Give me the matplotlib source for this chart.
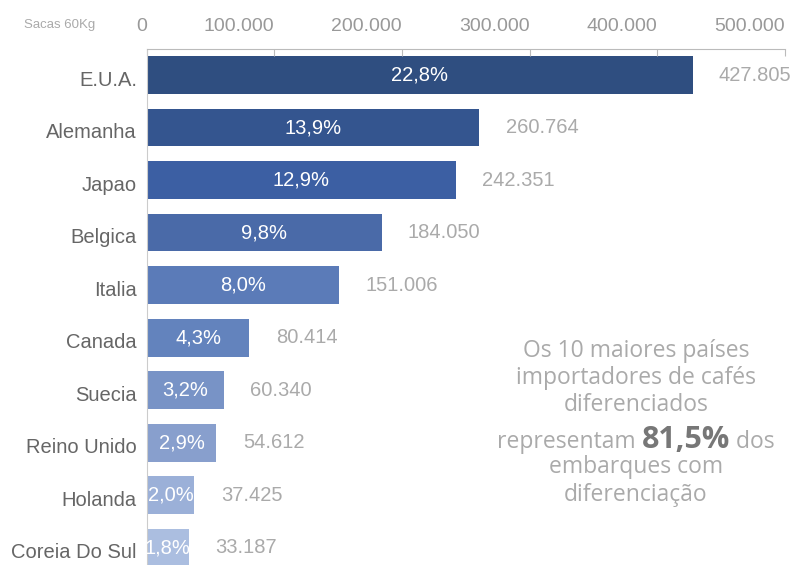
import matplotlib.pyplot as plt
from matplotlib.ticker import FuncFormatter
from matplotlib.transforms import ScaledTranslation

paises = ['E.U.A.', 'Alemanha', 'Japao', 'Belgica', 'Italia', 'Canada',
          'Suecia', 'Reino Unido', 'Holanda', 'Coreia Do Sul']
sacas = [427805, 260764, 242351, 184050, 151006, 80414, 60340, 54612, 37425, 33187]
percentual = ['22,8%', '13,9%', '12,9%', '9,8%', '8,0%', '4,3%', '3,2%', '2,9%', '2,0%', '1,8%']
cores = ['#2f4e80', '#34558f', '#3c5fa3', '#4a6aa8', '#5b7bb8', '#6383bd',
         '#7893c6', '#889fcd', '#9bb0d8', '#abbee0']
ticks = [0, 100000, 200000, 300000, 400000, 500000]

plt.rcParams['font.family'] = ['Liberation Sans', 'DejaVu Sans']

fig = plt.figure(figsize=(7.98, 5.65), dpi=100)
ax = fig.add_axes([146.7 / 798, 0, (784.7 - 146.7) / 798, 1 - 48.5 / 565])

y = list(range(len(paises)))
ax.barh(y, sacas, height=0.72, color=cores)

for i in y:
    ax.text(sacas[i] / 2, i, percentual[i], ha='center', va='center',
            color='white', fontsize=14.5)
    ax.annotate(f'{sacas[i]:,}'.replace(',', '.'), (sacas[i], i),
                xytext=(19, 0), textcoords='offset points',
                ha='left', va='center', color='#aaaaaa', fontsize=14.5)

ax.set_xlim(0, 500000)
ax.set_ylim(9.33, -0.505)
ax.set_yticks(y)
ax.set_yticklabels(paises)
ax.set_xticks(ticks)
ax.xaxis.set_major_formatter(FuncFormatter(lambda v, p: f'{int(v):,}'.replace(',', '.')))
ax.xaxis.tick_top()
ax.tick_params(axis='x', direction='in', length=5, color='#bbbbbb',
               labelcolor='#999999', labelsize=14, pad=9.5)
ax.tick_params(axis='y', length=0, labelcolor='#666666', labelsize=14.5, pad=7)
for lb in ax.get_xticklabels():
    lb.set_horizontalalignment('right')
desce = ScaledTranslation(0, -3 / 100, fig.dpi_scale_trans)
for lb in ax.get_yticklabels():
    lb.set_transform(lb.get_transform() + desce)

for s in ['right', 'bottom']:
    ax.spines[s].set_visible(False)
ax.spines['top'].set_color('#bbbbbb')
ax.spines['left'].set_color('#cccccc')

fig.text(60 / 798, 1 - 25 / 565, 'Sacas 60Kg', ha='center', va='center',
         color='#aaaaaa', fontsize=9.5)

# bloco de texto a direita
cx = 636 / 798
fonte = ['Open Sans', 'DejaVu Sans']
fig.text(cx, 1 - 378 / 565, 'Os 10 maiores países\nimportadores de cafés\ndiferenciados',
         ha='center', va='center', color='#aaaaaa', fontsize=16.5, linespacing=1.17,
         family=fonte)
fig.text(cx, 1 - 481 / 565, 'embarques com\ndiferenciação',
         ha='center', va='center', color='#aaaaaa', fontsize=16.5, linespacing=1.17,
         family=fonte)

r = fig.canvas.get_renderer()
partes = [('representam ', 'normal', 16.5, '#aaaaaa'),
          ('81,5%', 'bold', 22, '#777777'),
          (' dos', 'normal', 16.5, '#aaaaaa')]
objs = []
for txt, peso, tam, cor in partes:
    t = fig.text(0, 1 - 440 / 565, txt, ha='left', va='baseline', color=cor,
                 fontsize=tam, fontweight=peso, family=fonte)
    objs.append(t)
larg = [t.get_window_extent(r).width for t in objs]
x0 = 636 - sum(larg) / 2
base = 1 - 448 / 565
for t, w in zip(objs, larg):
    t.set_position((x0 / 798, base))
    x0 += w

fig.savefig('out.png', dpi=100)
